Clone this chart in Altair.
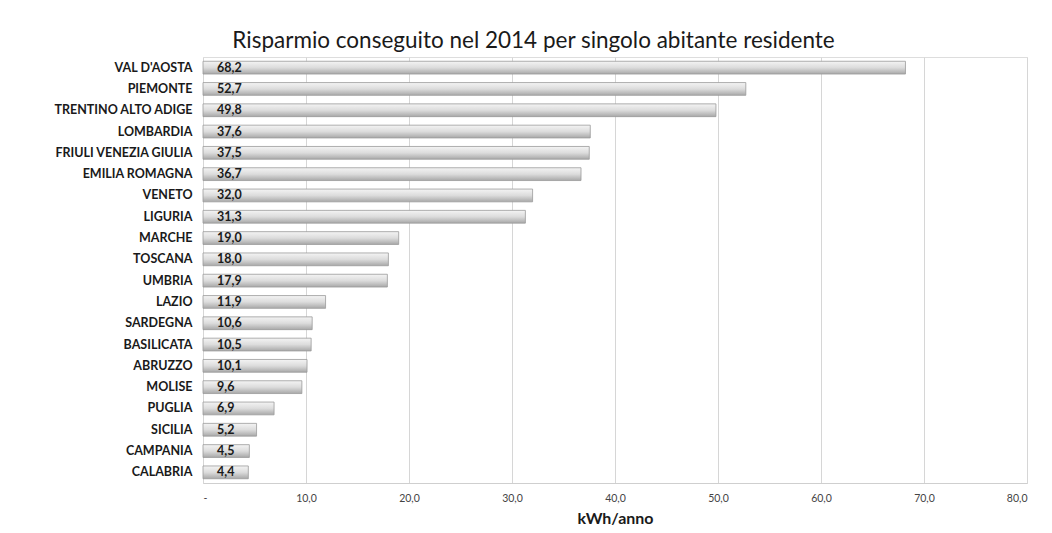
import altair as alt
import pandas as pd

regions = ["VAL D'AOSTA", "PIEMONTE", "TRENTINO ALTO ADIGE", "LOMBARDIA",
           "FRIULI VENEZIA GIULIA", "EMILIA ROMAGNA", "VENETO", "LIGURIA",
           "MARCHE", "TOSCANA", "UMBRIA", "LAZIO", "SARDEGNA", "BASILICATA",
           "ABRUZZO", "MOLISE", "PUGLIA", "SICILIA", "CAMPANIA", "CALABRIA"]
values = [68.2, 52.7, 49.8, 37.6, 37.5, 36.7, 32.0, 31.3, 19.0, 18.0,
          17.9, 11.9, 10.6, 10.5, 10.1, 9.6, 6.9, 5.2, 4.5, 4.4]

df = pd.DataFrame({"regione": regions, "valore": values})
df["etichetta"] = [f"{v:.1f}".replace(".", ",") for v in values]

FONT = "Lato"

y = alt.Y("regione:N", sort=regions, title=None,
          scale=alt.Scale(paddingInner=0.4, paddingOuter=0.2),
          axis=alt.Axis(labelFont=FONT, labelFontWeight="bold", labelFontSize=12.5,
                        labelColor="#1a1a1a", ticks=False, domain=False,
                        labelPadding=11, minExtent=195, maxExtent=195, labelLimit=200))

x = alt.X("valore:Q", title="kWh/anno",
          scale=alt.Scale(domain=[0, 80], nice=False),
          axis=alt.Axis(values=[0, 10, 20, 30, 40, 50, 60, 70, 80],
                        labelExpr="datum.value == 0 ? '-' : replace(format(datum.value, '.1f'), '.', ',')",
                        labelFont=FONT, labelFontSize=10.5, labelColor="#444444",
                        labelPadding=10, ticks=False,
                        domain=True, domainColor="#cfcfcf", domainWidth=1,
                        grid=True, gridColor="#d6d6d6", gridWidth=1,
                        titleFont=FONT, titleFontSize=16, titleFontWeight="bold",
                        titleColor="#1a1a1a", titlePadding=7))

bars = alt.Chart(df).mark_bar(
    color=alt.Gradient(gradient="linear", x1=0, x2=0, y1=0, y2=1,
                       stops=[alt.GradientStop(color="#f4f4f4", offset=0),
                              alt.GradientStop(color="#dcdcdc", offset=0.5),
                              alt.GradientStop(color="#a8a8a8", offset=1)]),
    stroke="#9a9a9a", strokeWidth=0.8
).encode(x=x, y=y)

labels = alt.Chart(df).mark_text(
    align="left", baseline="middle", dx=14, font=FONT, fontWeight="bold",
    fontSize=12.5, color="#1a1a1a"
).encode(x=alt.X("zero:Q", scale=alt.Scale(domain=[0, 80], nice=False)),
         y=alt.Y("regione:N", sort=regions), text="etichetta:N").transform_calculate(zero="0")

chart = alt.layer(bars, labels).properties(
    width=824, height=426,
    padding={"top": 21, "left": 0, "right": 10, "bottom": 5},
    title=alt.TitleParams("Risparmio conseguito nel 2014 per singolo abitante residente",
                          font=FONT, fontSize=22.5, fontWeight="normal", color="#1a1a1a",
                          anchor="middle", frame="bounds", offset=5, dx=16)
).configure_view(stroke=None).configure(background="white")

chart.save("out.html", embed_options={"renderer": "svg", "actions": False})
